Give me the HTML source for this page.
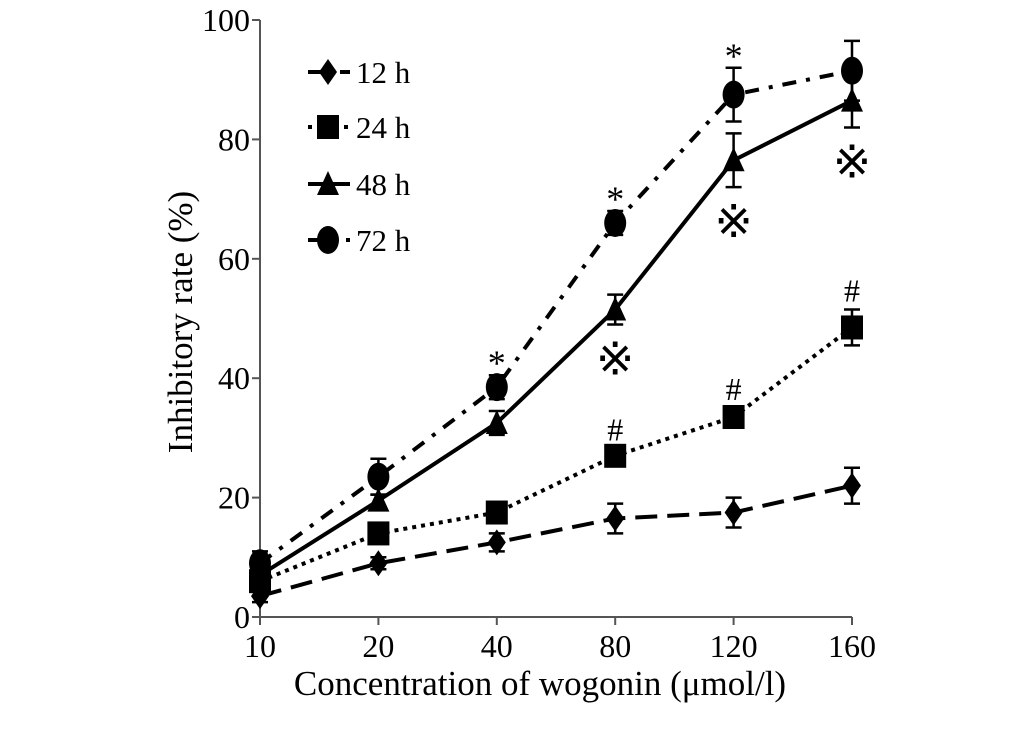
<!DOCTYPE html>
<html><head><meta charset="utf-8"><style>
body{margin:0;background:#fff}
svg text{font-family:"Liberation Serif",serif;fill:#000}
</style></head><body>
<svg width="1033" height="734">
<g id="axes"></g><g id="plot"></g><g id="legend"></g>
</svg>
<script>
const categories=["10","20","40","80","120","160"];
const yTicks=[0,20,40,60,80,100];
const s12=[3.5,9,12.5,16.5,17.5,22];
const e12=[1,1,1.5,2.5,2.5,3];
const s24=[6,14,17.5,27,33.5,48.5];
const e24=[1,1,1,1.2,1.5,3];
const s48=[7,19.5,32.5,51.5,76.5,86.5];
const e48=[1,1,2,2.5,4.5,4.5];
const s72=[9,23.5,38.5,66,87.5,91.5];
const e72=[2,3,2,2,4.5,5];
const starIdx=[2,3,4];
const refIdx=[3,4,5];
const hashIdx=[3,4,5];
const NS="http://www.w3.org/2000/svg";
const X0=260,X1=852,Y0=617,Y1=20;
const x=i=>X0+(X1-X0)*i/(categories.length-1);
const y=v=>Y0-(Y0-Y1)*v/100;
function mk(p,t,a){const e=document.createElementNS(NS,t);for(const k in a)e.setAttribute(k,a[k]);p.appendChild(e);return e;}
const axes=document.getElementById('axes'),plot=document.getElementById('plot'),leg=document.getElementById('legend');
let ax=mk(axes,'line',{x1:X0,y1:Y1,x2:X0,y2:Y0,stroke:'#555','stroke-width':2});

ax=mk(axes,'line',{x1:X0-8,y1:Y0,x2:X1,y2:Y0,stroke:'#555','stroke-width':2});

yTicks.forEach(v=>{
 mk(axes,'line',{x1:X0-8,y1:y(v),x2:X0,y2:y(v),stroke:'#555','stroke-width':2});
 const t=mk(axes,'text',{x:X0-10,y:y(v)+11,'text-anchor':'end','font-size':32});t.textContent=v;
 
});
categories.forEach((c,i)=>{
 mk(axes,'line',{x1:x(i),y1:Y0,x2:x(i),y2:Y0+8,stroke:'#555','stroke-width':2});
 const t=mk(axes,'text',{x:x(i),y:Y0+40,'text-anchor':'middle','font-size':32});t.textContent=c;
 
});
let t=mk(axes,'text',{x:540,y:695,'text-anchor':'middle','font-size':35});t.textContent="Concentration of wogonin (μmol/l)";

t=mk(axes,'text',{x:0,y:0,'text-anchor':'middle','font-size':35,transform:'translate(192,322) rotate(-90)'});t.textContent="Inhibitory rate (%)";

function marker(g,type,cx,cy){
 if(type==='diamond')mk(g,'polygon',{points:`${cx},${cy-13} ${cx+9},${cy} ${cx},${cy+13} ${cx-9},${cy}`});
 else if(type==='square')mk(g,'rect',{x:cx-11,y:cy-12,width:22,height:24});
 else if(type==='triangle')mk(g,'polygon',{points:`${cx},${cy-13} ${cx+11},${cy+11} ${cx-11},${cy+11}`});
 else mk(g,'ellipse',{cx:cx,cy:cy,rx:11,ry:14});
}
const series=[
 {n:'12h',d:s12,e:e12,m:'diamond',dash:'22,10'},
 {n:'24h',d:s24,e:e24,m:'square',dash:'4,5'},
 {n:'48h',d:s48,e:e48,m:'triangle',dash:''},
 {n:'72h',d:s72,e:e72,m:'circle',dash:'14,10,4,10'}];
series.forEach(s=>{
 const g=mk(plot,'g',{fill:'#000'});
 
 const pl=mk(g,'polyline',{points:s.d.map((v,i)=>x(i)+','+y(v)).join(' '),fill:'none',stroke:'#000','stroke-width':4,'stroke-dasharray':s.dash});
 
 s.d.forEach((v,i)=>{
  const cx=x(i),hi=y(v+s.e[i]),lo=y(v-s.e[i]);
  mk(g,'path',{d:`M${cx},${hi}V${lo}M${cx-8},${hi}H${cx+8}M${cx-8},${lo}H${cx+8}`,stroke:'#000','stroke-width':2.5,fill:'none'});
  marker(g,s.m,cx,y(v));
 });
});
function ann(arr,idx,txt,dy,name,size){idx.forEach(i=>{const a=mk(plot,'text',{x:x(i),y:y(arr[i])+dy,'text-anchor':'middle','font-size':size});a.textContent=txt;
 });}
ann(s72.map((v,i)=>v+e72[i]),starIdx,'*',0,'significance-star',36);
ann(s24.map((v,i)=>v+e24[i]),hashIdx,'#',-8,'significance-hash',32);
ann(s48.map((v,i)=>v-e48[i]),refIdx,'※',50,'significance-mark',46);
const legY=[72,127,184,240],legDash=['22,10','4,5','','14,10,4,10'],legM=['diamond','square','triangle','circle'],legT=['12 h','24 h','48 h','72 h'];
legT.forEach((l,i)=>{
 const g=mk(leg,'g',{fill:'#000'});
 
 mk(g,'line',{x1:308,y1:legY[i],x2:350,y2:legY[i],stroke:'#000','stroke-width':4,'stroke-dasharray':legDash[i]});
 marker(g,legM[i],328,legY[i]);
 const tt=mk(g,'text',{x:356,y:legY[i]+11,'font-size':31});tt.textContent=l;
});
</script>
</body></html>
